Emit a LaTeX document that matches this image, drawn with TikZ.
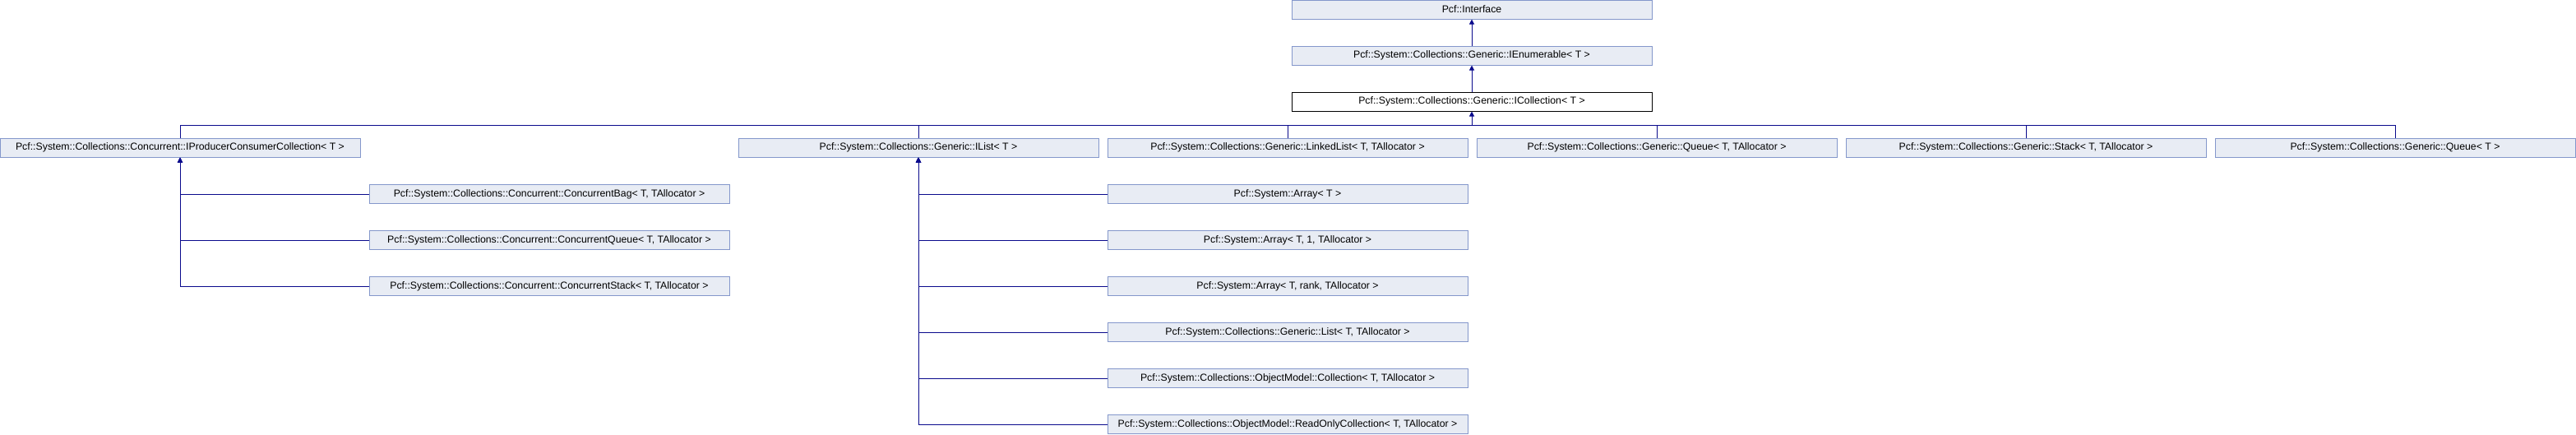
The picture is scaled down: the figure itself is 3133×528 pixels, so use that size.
\documentclass[tikz,border=0pt]{standalone}
\usepackage{fontspec}
\setmainfont{Liberation Sans}
\usepackage{xcolor}
\usetikzlibrary{arrows.meta,positioning}
\definecolor{boxfill}{RGB}{232,236,244}
\definecolor{boxline}{RGB}{132,151,203}
\definecolor{linkblue}{RGB}{10,10,140}
\tikzset{%
	cls/.style      = {draw=boxline, fill=boxfill, rectangle, line width=1pt, minimum width=438pt, minimum height=23pt, inner sep=0pt, font=\fontsize{12.3}{14}\selectfont, text centered},
	current/.style  = {cls, draw=black, fill=white}, % documented class
	waypoint/.style = {coordinate},
	link/.style     = {draw=linkblue, line width=1pt},
	arrow/.style    = {link, -{Triangle[width=6pt,length=6pt]}},
}

\begin{document}
\begin{tikzpicture}[x=1pt,y=-1pt,node distance=56pt]
	\useasboundingbox (0,0) rectangle (3133,528);
	\node [cls] (iface) at (1790,11.5) {Pcf::Interface};
	\node [cls] (ienum) [below of=iface] {Pcf::System::Collections::Generic::IEnumerable< T >};
	\node [current] (icoll) [below of=ienum] {Pcf::System::Collections::Generic::ICollection< T >};
	\node [waypoint] (bus) [below of=icoll,node distance=28.5pt] {};
	
	% derived from ICollection
	\node [cls] (pcc) at (219,179.5) {Pcf::System::Collections::Concurrent::IProducerConsumerCollection< T >};
	\node [cls] (ilist) [right of=pcc,node distance=898pt] {Pcf::System::Collections::Generic::IList< T >};
	\node [cls] (llist) [right of=ilist,node distance=449pt] {Pcf::System::Collections::Generic::LinkedList< T, TAllocator >};
	\node [cls] (gqueue) [right of=llist,node distance=449pt] {Pcf::System::Collections::Generic::Queue< T, TAllocator >};
	\node [cls] (gstack) [right of=gqueue,node distance=449pt] {Pcf::System::Collections::Generic::Stack< T, TAllocator >};
	\node [cls] (queue) [right of=gstack,node distance=449pt] {Pcf::System::Collections::Generic::Queue< T >};
	
	% derived from IProducerConsumerCollection
	\node [cls] (cbag) [below of=pcc,xshift=449pt,node distance=56.5pt] {Pcf::System::Collections::Concurrent::ConcurrentBag< T, TAllocator >};
	\node [cls] (cqueue) [below of=cbag] {Pcf::System::Collections::Concurrent::ConcurrentQueue< T, TAllocator >};
	\node [cls] (cstack) [below of=cqueue] {Pcf::System::Collections::Concurrent::ConcurrentStack< T, TAllocator >};
	
	% derived from IList
	\node [cls] (arr) [below of=llist,node distance=56.5pt] {Pcf::System::Array< T >};
	\node [cls] (arrone) [below of=arr] {Pcf::System::Array< T, 1, TAllocator >};
	\node [cls] (arrrank) [below of=arrone] {Pcf::System::Array< T, rank, TAllocator >};
	\node [cls] (glist) [below of=arrrank] {Pcf::System::Collections::Generic::List< T, TAllocator >};
	\node [cls] (coll) [below of=glist] {Pcf::System::Collections::ObjectModel::Collection< T, TAllocator >};
	\node [cls] (rocoll) [below of=coll] {Pcf::System::Collections::ObjectModel::ReadOnlyCollection< T, TAllocator >};
	
	\draw[arrow] (ienum) -- (iface);
	\draw[arrow] (icoll) -- (ienum);
	\foreach \c in {pcc,ilist,llist,gqueue,gstack,queue}
		\draw[link] (\c.north) |- (bus);
	\draw[arrow] (bus) -- (icoll);
	\foreach \s in {cbag,cqueue,cstack}
		\draw[arrow] (\s.west) -| (pcc.south);
	\foreach \s in {arr,arrone,arrrank,glist,coll,rocoll}
		\draw[arrow] (\s.west) -| (ilist.south);
\end{tikzpicture}
\end{document}
